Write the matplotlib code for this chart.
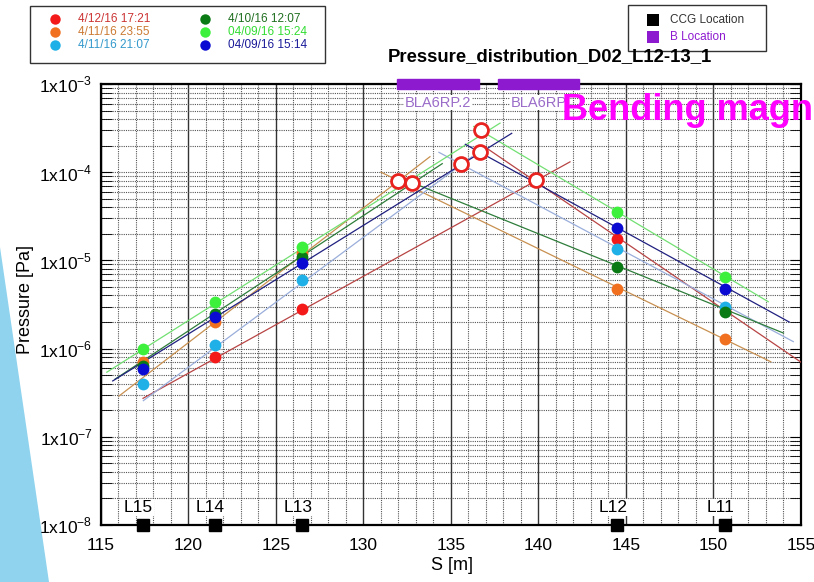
import numpy as np
import matplotlib
matplotlib.use('Agg')
import matplotlib.pyplot as plt
from matplotlib.patches import Polygon, Rectangle
from matplotlib.lines import Line2D
from matplotlib.ticker import FixedLocator, NullFormatter

plt.rcParams['font.family'] = ['Liberation Sans', 'DejaVu Sans']
plt.rcParams['mathtext.fontset'] = 'custom'
plt.rcParams['mathtext.rm'] = 'Liberation Sans'

W, H = 814, 582

# CCG gauge positions along the ring
ccg_s = [117.4, 121.5, 126.5, 144.5, 150.66]
ccg_names = ['L15', 'L14', 'L13', 'L12', 'L11']

labels = ['4/12/16 17:21', '4/11/16 23:55', '4/11/16 21:07',
          '4/10/16 12:07', '04/09/16 15:24', '04/09/16 15:14']
marker_colors = ['#f41a1a', '#f07020', '#1eb0e6', '#0a7a14', '#3cf03c', '#0a0ad2']
text_colors = ['#cc3333', '#cc7a33', '#3399cc', '#1e6e1e', '#33dd33', '#1a1a99']
line_colors = ['#b84444', '#c89050', '#9aaedb', '#2e7d3a', '#72e072', '#202080']

# measured pressures at each CCG (nan = not shown)
p_red = [np.nan, 8.0e-7, 2.8e-6, 1.75e-5, 2.7e-6]
p_orange = [7.1e-7, 2.0e-6, 1.22e-5, 4.8e-6, 1.28e-6]
p_cyan = [4.0e-7, 1.09e-6, 6.0e-6, 1.34e-5, 3.0e-6]
p_dgreen = [6.3e-7, 2.5e-6, 1.1e-5, 8.4e-6, 2.6e-6]
p_lime = [1.0e-6, 3.4e-6, 1.41e-5, 3.5e-5, 6.4e-6]
p_blue = [5.8e-7, 2.26e-6, 9.4e-6, 2.35e-5, 4.8e-6]
pressures = [p_red, p_orange, p_cyan, p_dgreen, p_lime, p_blue]

# fit lines (s0, p0, s1, p1) upstream and downstream side
left_lines = [(117.4, 2.73e-7, 141.8, 1.31e-4),
              (116.03, 2.9e-7, 133.8, 1.5e-4),
              (117.42, 2.57e-7, 136.2, 1.5e-4),
              (115.8, 4.5e-7, 134.5, 1.25e-4),
              (115.33, 5.4e-7, 137.8, 3.6e-4),
              (115.67, 4.3e-7, 138.47, 2.76e-4)]
right_lines = [(137.13, 1.82e-4, 155.1, 6.8e-7),
               (131.0, 1.0e-4, 153.27, 7.1e-7),
               (134.31, 1.68e-4, 154.56, 1.2e-6),
               (132.0, 8.8e-5, 154.0, 1.5e-6),
               (136.3, 3.3e-4, 153.13, 3.4e-6),
               (135.82, 2.07e-4, 154.33, 2.0e-6)]

# estimated peak (intersection) positions
peak_s = [139.84, 131.99, 135.55, 132.79, 136.71, 136.66]
peak_p = [8.2e-5, 8.0e-5, 1.24e-4, 7.6e-5, 3.0e-4, 1.68e-4]

# bending magnets
bm_names = ['BLA6RP.2', 'BLA6RP']
bm_start = [131.9, 137.67]
bm_end = [136.6, 142.33]

yticks = [1e-8, 1e-7, 1e-6, 1e-5, 1e-4, 1e-3]


def fx(px):
    return px / W


def fy(py):
    return 1 - py / H


fig = plt.figure(figsize=(W / 100, H / 100), dpi=100)

# decorative blue wedge at lower left (behind everything)
bg = fig.add_axes([0, 0, 1, 1], zorder=0)
bg.set_axis_off()
bg.set_xlim(0, W)
bg.set_ylim(H, 0)
bg.add_patch(Polygon([(0, 247), (49, 582), (0, 582)], closed=True,
                     facecolor='#8fd3ee', edgecolor='none'))

ax = fig.add_axes([fx(101), fy(525), fx(801) - fx(101), fy(84) - fy(525)], zorder=2)
ax.set_yscale('log')
ax.set_xlim(115, 155)
ax.set_ylim(1e-8, 1e-3)

ax.set_xticks(np.arange(115, 156, 5))
ax.xaxis.set_minor_locator(FixedLocator(np.arange(115, 156, 1)))
ax.set_yticks(yticks)
ax.set_yticklabels([r'1x10$^{\mathregular{%d}}$' % int(np.log10(v)) for v in yticks])
ax.yaxis.set_minor_locator(FixedLocator([m * 10.0 ** e for e in range(-8, -3) for m in range(2, 10)]))
ax.yaxis.set_minor_formatter(NullFormatter())

ax.grid(which='major', axis='x', color='#333333', lw=1.0, ls='-')
ax.grid(which='minor', axis='x', color='#555555', lw=0.8, ls=(0, (1, 1)))
ax.grid(which='both', axis='y', color='#555555', lw=0.8, ls=(0, (1, 1)))
ax.set_axisbelow(True)

ax.tick_params(axis='x', which='both', length=0, labelsize=12.5, pad=9)
ax.tick_params(axis='y', which='both', direction='in', left=True, right=True,
               labelsize=12.5, pad=6)
ax.tick_params(axis='y', which='major', length=8)
ax.tick_params(axis='y', which='minor', length=8)
for sp in ax.spines.values():
    sp.set_linewidth(1.6)

for i in range(6):
    s0, p0, s1, p1 = left_lines[i]
    ax.plot([s0, s1], [p0, p1], color=line_colors[i], lw=0.9, zorder=3)
    s0, p0, s1, p1 = right_lines[i]
    ax.plot([s0, s1], [p0, p1], color=line_colors[i], lw=0.9, zorder=3)

for i in range(6):
    ax.plot(ccg_s, pressures[i], 'o', color=marker_colors[i], ms=8.5, mew=0, zorder=4)

ax.plot(peak_s, peak_p, 'o', mfc='white', mec='#e8231f', mew=2, ms=10, ls='none', zorder=5)

# CCG markers and names
ax.plot(ccg_s, [1e-8] * len(ccg_s), 's', color='black', ms=8.5, clip_on=False, zorder=6)
for s, n in zip(ccg_s, ccg_names):
    ax.text(s - 0.25, 10 ** -7.8, n, ha='center', va='center', fontsize=12.5,
            bbox=dict(facecolor='white', edgecolor='none', pad=0.5), zorder=5)

# bending magnet bars
for s0, s1, n in zip(bm_start, bm_end, bm_names):
    ax.axvspan(s0, s1, ymin=0.989, ymax=1.011, color='#8e1ad0', clip_on=False, zorder=6)
    ax.text((s0 + s1) / 2, 10 ** -3.21, n, ha='center', va='center', fontsize=10.5,
            color='#9a6cc8', bbox=dict(facecolor='white', edgecolor='none', pad=0.5), zorder=5)

ax.set_xlabel('S [m]', fontsize=13)
ax.xaxis.set_label_coords((452 - 101) / 700, -(557 - 525) / 441)
ax.set_ylabel('Pressure [Pa]', fontsize=13)
ax.yaxis.set_label_coords(-(101 - 34) / 700, (525 - 300) / 441)

fig.text(fx(550), fy(57), 'Pressure_distribution_D02_L12-13_1', ha='center', va='center',
         fontsize=13.3, fontweight='bold', zorder=3)
fig.text(fx(562), fy(110), 'Bending magn', ha='left', va='center', fontsize=26,
         fontweight='bold', color='#ff00ff', zorder=10)

# legend for series
fig.patches.append(Rectangle((fx(30), fy(63)), fx(325) - fx(30), fy(6) - fy(63),
                             transform=fig.transFigure, facecolor='white',
                             edgecolor='#333333', lw=1, zorder=3))
for i in range(6):
    col, row = divmod(i, 3)
    mx = 55 + col * 150
    my = 19 + row * 13
    fig.add_artist(Line2D([fx(mx)], [fy(my)], marker='o', color=marker_colors[i],
                          ms=7.5, mew=0, transform=fig.transFigure, zorder=4))
    fig.text(fx(mx + 23), fy(my), labels[i], color=text_colors[i], fontsize=8.5,
             ha='left', va='center', zorder=4)

# legend for locations
fig.patches.append(Rectangle((fx(628), fy(51)), fx(766) - fx(628), fy(5) - fy(51),
                             transform=fig.transFigure, facecolor='white',
                             edgecolor='#333333', lw=1, zorder=3))
for my, c, t, tc in [(20, 'black', 'CCG Location', '#333333'),
                     (37, '#8e1ad0', 'B Location', '#8e1ad0')]:
    fig.add_artist(Line2D([fx(653)], [fy(my)], marker='s', color=c, ms=8.5, mew=0,
                          transform=fig.transFigure, zorder=4))
    fig.text(fx(670), fy(my), t, color=tc, fontsize=8.5, ha='left', va='center', zorder=4)

fig.savefig('out.png', dpi=100)
